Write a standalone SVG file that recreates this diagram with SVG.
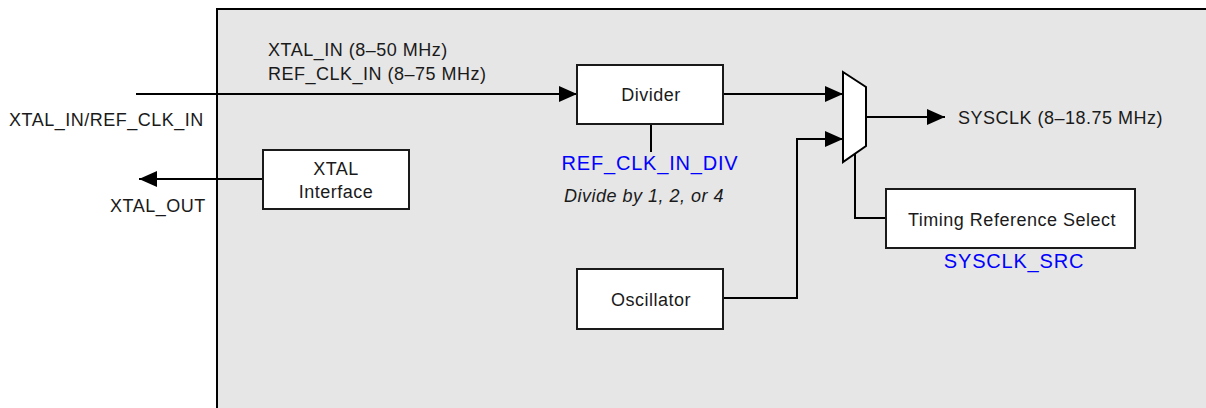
<svg xmlns="http://www.w3.org/2000/svg" width="1206" height="408" viewBox="0 0 1206 408">
<style>
.t{font-family:"Liberation Sans",Arial,sans-serif;font-size:18px;letter-spacing:0.5px;fill:#1a1a1a}
.c{text-anchor:middle}
.b{fill:#0000ff;font-size:20px;letter-spacing:0.8px}
.box{fill:#ffffff;stroke:#1a1a1a;stroke-width:2}
.w{fill:none;stroke:#000;stroke-width:2}
</style>
<defs>
<marker id="ah" viewBox="0 0 18 16" refX="18" refY="8" markerWidth="18" markerHeight="16" markerUnits="userSpaceOnUse" orient="auto">
<path d="M0,0 L18,8 L0,16 Z" fill="#000"/>
</marker>
</defs>
<rect id="frame" x="217" y="9" width="1000" height="410" fill="#e6e6e6" stroke="#000" stroke-width="2"/>
<g id="connectors">
<path class="w" d="M136,94 H577" marker-end="url(#ah)"/>
<path class="w" d="M263,179 H139" marker-end="url(#ah)"/>
<path class="w" d="M723,94 H843" marker-end="url(#ah)"/>
<path class="w" d="M723,298 H797 V139 H843" marker-end="url(#ah)"/>
<path class="w" d="M866,117 H945" marker-end="url(#ah)"/>
<path class="w" d="M651,124 V152"/>
<path class="w" d="M855,154 V218 H886"/>
</g>
<g id="divider">
<rect class="box" x="577" y="65" width="146" height="59"/>
<text class="t c" x="651" y="101">Divider</text>
</g>
<g id="xtal-interface">
<rect class="box" x="263" y="150" width="146" height="59"/>
<text class="t c" x="336" y="175">XTAL</text>
<text class="t c" x="336" y="198">Interface</text>
</g>
<g id="oscillator">
<rect class="box" x="577" y="269" width="146" height="60"/>
<text class="t c" x="651" y="306">Oscillator</text>
</g>
<g id="mux">
<path d="M843,72 L866,87 L866,146 L843,162 Z" fill="#fff" stroke="#000" stroke-width="2"/>
</g>
<g id="timing-ref-select">
<rect class="box" x="886" y="189" width="249" height="59"/>
<text class="t c" x="1012" y="226">Timing Reference Select</text>
</g>
<g id="labels">
<text class="t" x="268" y="56">XTAL_IN (8–50 MHz)</text>
<text class="t" x="268" y="80">REF_CLK_IN (8–75 MHz)</text>
<text class="t" x="9" y="126">XTAL_IN/REF_CLK_IN</text>
<text class="t" x="110" y="212">XTAL_OUT</text>
<text class="t" x="958" y="124">SYSCLK (8–18.75 MHz)</text>
<text class="t b c" x="650" y="170">REF_CLK_IN_DIV</text>
<text class="t c" x="644" y="202" font-style="italic">Divide by 1, 2, or 4</text>
<text class="t b c" x="1014" y="268">SYSCLK_SRC</text>
</g>
</svg>
